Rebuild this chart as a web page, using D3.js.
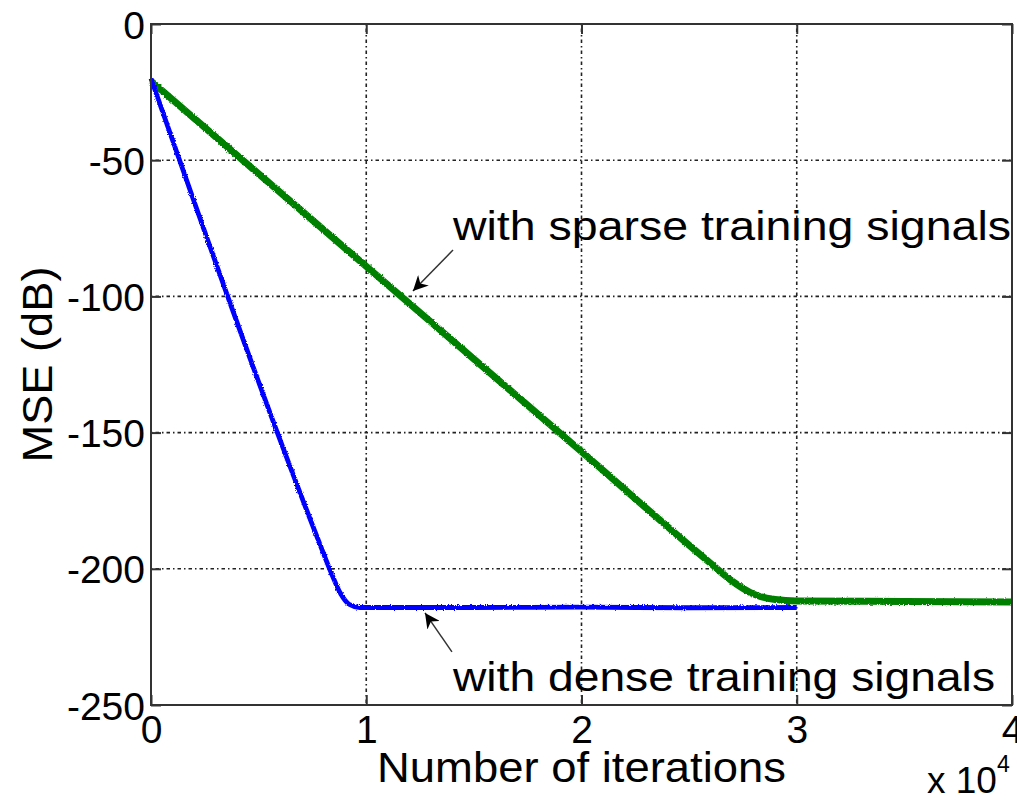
<!DOCTYPE html>
<html>
<head>
<meta charset="utf-8">
<script src="https://cdn.jsdelivr.net/npm/d3@7"></script>
<style>
  html, body { margin: 0; padding: 0; background: #fff; }
  svg { display: block; }
  text { font-family: "Liberation Sans", Arial, Helvetica, sans-serif; fill: #000; }
</style>
</head>
<body>
<svg id="chart" width="1017" height="801"></svg>
<script>
// MSE learning curves: dense vs sparse training signals
const xTicks = [0, 10000, 20000, 30000, 40000];
const yTicks = [0, -50, -100, -150, -200, -250];

const denseIter = [0, 7800, 8400, 8800, 9200, 9700, 15000, 20000, 25000, 30000];
const denseMSE  = [-20, -190, -202, -209, -213, -214.2, -214.2, -214.1, -214.3, -214.2];

const sparseIter = [0, 10000, 20000, 26000, 27000, 28000, 29000, 30000, 35000, 40000];
const sparseMSE  = [-21, -89, -157, -198, -204.5, -209.3, -211.3, -211.8, -212.0, -212.2];

// annotation anchors in data units: [iterations, dB]
const sparseNote = { text: "with sparse training signals", at: [14030, -79.3], tail: [14030, -83.0], head: [12170, -98.0], width: 558 };
const denseNote  = { text: "with dense training signals",  at: [14030, -244.7], tail: [13980, -230.5], head: [12730, -216.2], width: 542 };

const svg = d3.select("#chart");
const L = 151, R = 1012, T = 24, B = 705;

const x = d3.scaleLinear().domain([0, 40000]).range([L, R]);
const y = d3.scaleLinear().domain([-250, 0]).range([B, T]);

const defs = svg.append("defs");
// slight roughness on the noisy learning curves
const f = defs.append("filter").attr("id", "rough").attr("x", "-5%").attr("y", "-5%").attr("width", "110%").attr("height", "110%");
f.append("feTurbulence").attr("type", "fractalNoise").attr("baseFrequency", 0.9).attr("numOctaves", 1).attr("seed", 3).attr("result", "n");
f.append("feDisplacementMap").attr("in", "SourceGraphic").attr("in2", "n").attr("scale", 3).attr("xChannelSelector", "R").attr("yChannelSelector", "G");

defs.append("marker").attr("id", "head")
  .attr("viewBox", "0 0 10 10").attr("refX", 10).attr("refY", 5)
  .attr("markerWidth", 15).attr("markerHeight", 15).attr("markerUnits", "userSpaceOnUse")
  .attr("orient", "auto")
  .append("path").attr("d", "M0,0 L10,5 L0,10 L3,5 Z").attr("fill", "#000");

// grid
const gridStyle = g => g.attr("stroke", "#222").attr("stroke-width", 1.6).attr("stroke-dasharray", "1.5,3,3.5,3");
const grid = svg.append("g");
grid.selectAll("line.gx").data(xTicks.slice(1, -1)).join("line")
  .attr("x1", d => x(d)).attr("x2", d => x(d)).attr("y1", T).attr("y2", B).call(gridStyle);
grid.selectAll("line.gy").data(yTicks.slice(1, -1)).join("line")
  .attr("x1", L).attr("x2", R).attr("y1", d => y(d)).attr("y2", d => y(d)).call(gridStyle);

// curves
const line = d3.line().x(d => x(d[0])).y(d => y(d[1])).curve(d3.curveMonotoneX);
const sparse = sparseIter.map((v, i) => [v, sparseMSE[i]]);
const dense = denseIter.map((v, i) => [v, denseMSE[i]]);

svg.append("path").datum(sparse).attr("d", line)
  .attr("fill", "none").attr("stroke", "#008000").attr("stroke-width", 7).attr("filter", "url(#rough)");
svg.append("path").datum(dense).attr("d", line)
  .attr("fill", "none").attr("stroke", "#0000ff").attr("stroke-width", 4.8).attr("filter", "url(#rough)");

// axes: ticks inside on all four sides, box frame
const tickLen = 10;
const axB = d3.axisBottom(x).tickValues(xTicks).tickSize(-tickLen).tickPadding(10).tickFormat(d => String(d / 10000));
const axT = d3.axisTop(x).tickValues(xTicks).tickSize(-tickLen).tickFormat("");
const axL = d3.axisLeft(y).tickValues(yTicks).tickSize(-tickLen).tickPadding(6).tickFormat(d => String(d));
const axR = d3.axisRight(y).tickValues(yTicks).tickSize(-tickLen).tickFormat("");

const styleAxis = g => {
  g.select(".domain").remove();
  g.selectAll(".tick line").attr("stroke", "#333").attr("stroke-width", 2);
  g.selectAll(".tick text").style("font-size", "39px").attr("fill", "#000")
    .style("font-family", "'Liberation Sans', Arial, sans-serif");
};
svg.append("g").attr("transform", `translate(0,${B})`).call(axB).call(styleAxis)
  .selectAll(".tick text").attr("dy", "0.71em");
svg.append("g").attr("transform", `translate(0,${T})`).call(axT).call(styleAxis);
svg.append("g").attr("transform", `translate(${L},0)`).call(axL).call(styleAxis)
  .selectAll(".tick text").attr("dy", "0.36em");
svg.append("g").attr("transform", `translate(${R},0)`).call(axR).call(styleAxis);

svg.append("rect").attr("x", L).attr("y", T).attr("width", R - L).attr("height", B - T)
  .attr("fill", "none").attr("stroke", "#333").attr("stroke-width", 2);

// axis labels
svg.append("text").attr("x", (L + R) / 2).attr("y", 782).attr("text-anchor", "middle")
  .style("font-size", "42px").attr("textLength", 409).attr("lengthAdjust", "spacingAndGlyphs")
  .text("Number of iterations");
svg.append("text").attr("transform", `translate(52,${(T + B) / 2}) rotate(-90)`).attr("text-anchor", "middle")
  .style("font-size", "42px").attr("textLength", 196).attr("lengthAdjust", "spacingAndGlyphs")
  .text("MSE (dB)");
const mult = svg.append("text").attr("x", 927).attr("y", 793).style("font-size", "37px");
mult.append("tspan").text("x 10");
mult.append("tspan").attr("dy", -21).style("font-size", "23px").text("4");

// annotations
[sparseNote, denseNote].forEach(n => {
  svg.append("line")
    .attr("x1", x(n.tail[0])).attr("y1", y(n.tail[1]))
    .attr("x2", x(n.head[0])).attr("y2", y(n.head[1]))
    .attr("stroke", "#333").attr("stroke-width", 1.5).attr("marker-end", "url(#head)");
  svg.append("text").attr("x", x(n.at[0])).attr("y", y(n.at[1]))
    .style("font-size", "41px").attr("textLength", n.width).attr("lengthAdjust", "spacingAndGlyphs")
    .text(n.text);
});
</script>
</body>
</html>
